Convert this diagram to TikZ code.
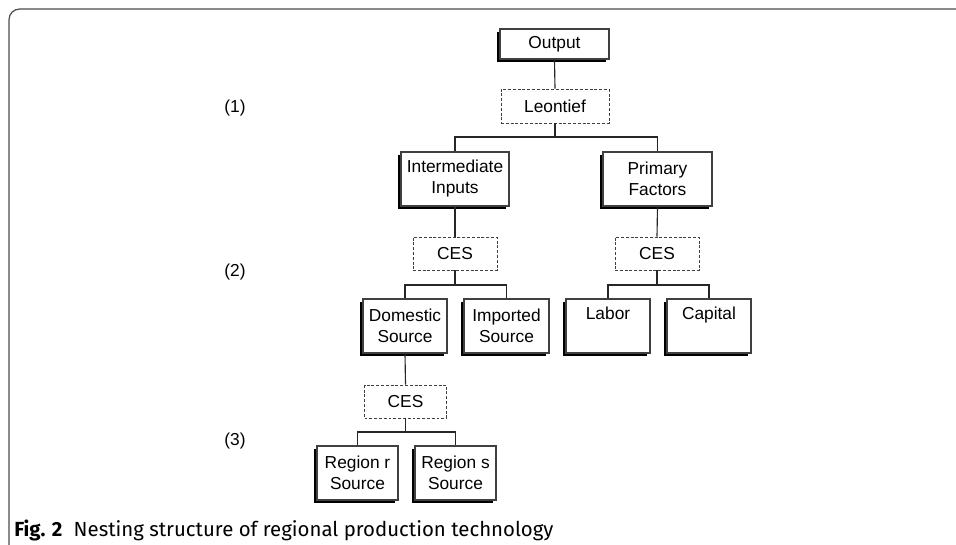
\documentclass[tikz,border=0pt]{standalone}
\usepackage{fontspec}
\setmainfont{Liberation Sans}
\newfontfamily\capfont{Fira Sans}
\usetikzlibrary{shadows}
\begin{document}
\begin{tikzpicture}[x=0.75pt,y=-0.75pt,
  every node/.style={font=\fontsize{13}{15.75}\selectfont, inner sep=0pt, align=center},
  solidbox/.style={draw=black!75, line width=0.8pt, fill=white, minimum height=54*0.75pt,
    drop shadow={shadow xshift=-2pt, shadow yshift=-2pt, fill=black, opacity=1}},
  dashbox/.style={draw=black!75, line width=0.7pt, dash pattern=on 2.2pt off 1.4pt, fill=white, minimum height=33*0.75pt},
  conn/.style={draw=black!85, line width=0.85pt},
  lvl/.style={font=\fontsize{13}{15.75}\selectfont}]
\useasboundingbox (0,0) rectangle (956,544);
\draw[black!70, line width=0.9pt, rounded corners=8pt] (9,546) -- (9,9) -- (958,9);

% level labels
\node[lvl] (l1) at (235,108) {(1)};
\node[lvl] (l2) at (235,272) {(2)};
\node[lvl] (l3) at (235,441) {(3)};

% nodes
\node[solidbox, minimum width=109*0.75pt, minimum height=30*0.75pt] (out) at (554.5,44) {Output};
\node[dashbox, minimum width=108*0.75pt, minimum height=34*0.75pt] (leon) at (555,106) {Leontief};
\node[solidbox, minimum width=108*0.75pt] (inter) at (455,179) {Intermediate\\Inputs};
\node[solidbox, minimum width=109*0.75pt] (prim) at (657.5,179) {Primary\\Factors};
\node[dashbox, minimum width=84*0.75pt] (ces1) at (455,253.5) {CES};
\node[dashbox, minimum width=84*0.75pt] (ces2) at (657,253.5) {CES};
\node[solidbox, minimum width=84*0.75pt] (dom) at (405,326) {Domestic\\Source};
\node[solidbox, minimum width=85*0.75pt] (imp) at (506.5,326) {Imported\\Source};
\node[solidbox, minimum width=84*0.75pt] (lab) at (608,326) {Labor\\\phantom{Xg}};
\node[solidbox, minimum width=84*0.75pt] (cap) at (709,326) {Capital\\\phantom{Xg}};
\node[dashbox, minimum width=82*0.75pt] (ces3) at (405.5,401.5) {CES};
\node[solidbox, minimum width=81*0.75pt] (rr) at (357.5,473) {Region r\\Source};
\node[solidbox, minimum width=81*0.75pt] (rs) at (455.5,473) {Region s\\Source};

% bus coordinates
\coordinate (b1) at (555,137);
\coordinate (b2) at (455,285);
\coordinate (b3) at (657,285);
\coordinate (b4) at (405.5,432);

% connectors
\draw[conn] (out.south) -- (leon.north);
\draw[conn] (leon.south) -- (b1) -| (inter.north);
\draw[conn] (b1) -| (prim.north);
\draw[conn] (inter.south) -- (ces1.north);
\draw[conn] (prim.south) -- (ces2.north);
\draw[conn] (ces1.south) -- (b2) -| (dom.north);
\draw[conn] (b2) -| (imp.north);
\draw[conn] (ces2.south) -- (b3) -| (lab.north);
\draw[conn] (b3) -| (cap.north);
\draw[conn] (dom.south) -- (ces3.north);
\draw[conn] (ces3.south) -- (b4) -| (rr.north);
\draw[conn] (b4) -| (rs.north);

% caption
\node[anchor=base west, font=\capfont\fontsize{15.3}{18}\selectfont] (cap0) at (14,536)
  {\textbf{Fig. 2}\hspace{0.55em}Nesting structure of regional production technology};
\end{tikzpicture}
\end{document}
